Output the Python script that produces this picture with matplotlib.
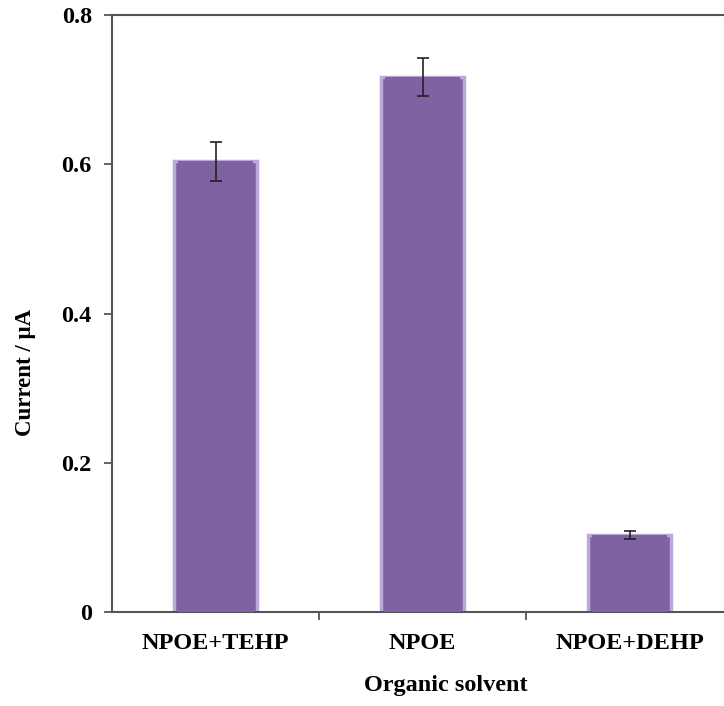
import matplotlib
matplotlib.use("Agg")
import matplotlib.pyplot as plt
import numpy as np

categories = ["NPOE+TEHP", "NPOE", "NPOE+DEHP"]
values = [0.604, 0.717, 0.103]
errors = [0.026, 0.026, 0.005]
yticks = [0, 0.2, 0.4, 0.6, 0.8]
ytick_labels = ["0", "0.2", "0.4", "0.6", "0.8"]

plt.rcParams['font.family'] = ['Liberation Serif', 'DejaVu Serif']
plt.rcParams['font.weight'] = 'bold'

W, H = 724, 706
fig = plt.figure(figsize=(W/100, H/100), dpi=100)
ax = fig.add_axes([112/W, (H-612)/H, (733-112)/W, (612-15)/H])

x = np.arange(len(categories))
ax.bar(x, values, width=0.40, color='#7f62a1', edgecolor='#bba9da', linewidth=2.5, zorder=2)
ax.bar(x, values, width=0.36, color='#7f62a1', edgecolor='none', zorder=3)
ax.errorbar(x, values, yerr=errors, fmt='none', ecolor='#222222', elinewidth=1.2,
            capsize=4, capthick=1.2, zorder=4)

ax.set_xlim(-0.5, 2.5)
ax.set_ylim(0, 0.8)
ax.set_yticks(yticks)
ax.set_yticklabels(ytick_labels, fontsize=17.5, fontweight='bold')
ax.set_xticks([0.5, 1.5])
ax.set_xticklabels([])
ax.set_xticks(x, minor=True)
ax.set_xticklabels(categories, minor=True, fontsize=17.5, fontweight='bold')
ax.tick_params(axis='x', which='minor', length=0, pad=15)
ax.tick_params(axis='x', which='major', length=6, width=1.3, color='#555555', direction='out')
ax.tick_params(axis='y', length=5.5, width=1.3, color='#555555', direction='out', pad=9)

for s in ['left', 'bottom', 'top', 'right']:
    ax.spines[s].set_color('#555555')
    ax.spines[s].set_linewidth(1.5)

fig.text(446/W, 1 - 686/H, "Organic solvent", ha='center', va='center', fontsize=17.5, fontweight='bold')
fig.text(25/W, 1 - 372/H, "Current / μA", ha='center', va='center', rotation=90, fontsize=16.5, fontweight='bold')

fig.savefig("out.png", dpi=100)
